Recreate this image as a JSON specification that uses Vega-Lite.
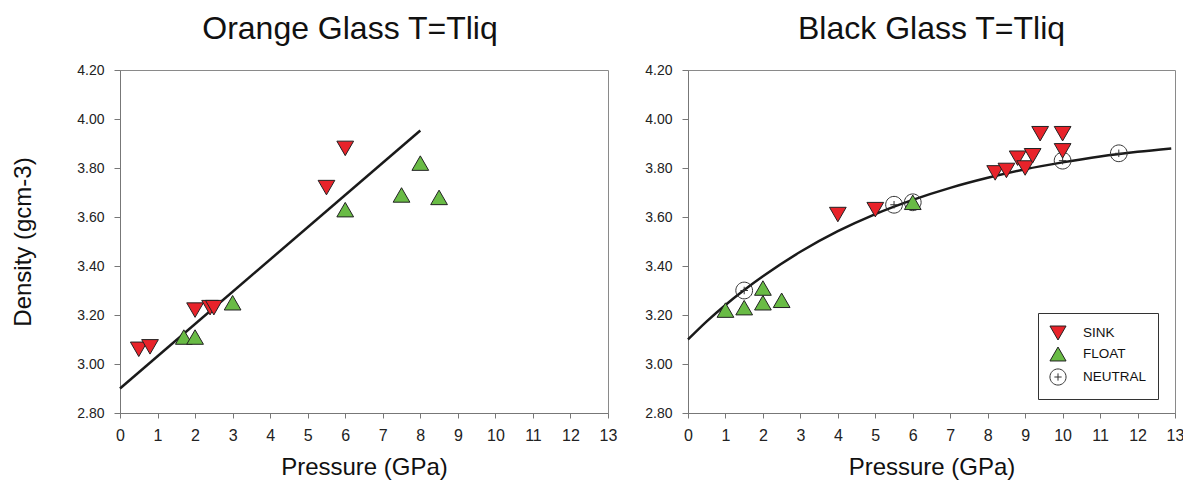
{
  "$schema": "https://vega.github.io/schema/vega-lite/v6.json",
  "autosize": {"type": "pad"},
  "padding": {"left": 10, "top": 12, "right": 5, "bottom": 5},
  "background": "white",
  "bounds": "flush",
  "spacing": 80,
  "datasets": {
    "orange": [
      {"P": 0.5, "D": 3.06, "type": "SINK"},
      {"P": 0.8, "D": 3.07, "type": "SINK"},
      {"P": 2.0, "D": 3.22, "type": "SINK"},
      {"P": 2.4, "D": 3.23, "type": "SINK"},
      {"P": 2.5, "D": 3.23, "type": "SINK"},
      {"P": 5.5, "D": 3.72, "type": "SINK"},
      {"P": 6.0, "D": 3.88, "type": "SINK"},
      {"P": 1.7, "D": 3.11, "type": "FLOAT"},
      {"P": 2.0, "D": 3.11, "type": "FLOAT"},
      {"P": 3.0, "D": 3.25, "type": "FLOAT"},
      {"P": 6.0, "D": 3.63, "type": "FLOAT"},
      {"P": 7.5, "D": 3.69, "type": "FLOAT"},
      {"P": 8.0, "D": 3.82, "type": "FLOAT"},
      {"P": 8.5, "D": 3.68, "type": "FLOAT"}
    ],
    "orangeFit": [
      {"P": 0, "D": 2.90},
      {"P": 8, "D": 3.953}
    ],
    "black": [
      {"P": 1.5, "D": 3.30, "type": "NEUTRAL"},
      {"P": 5.5, "D": 3.65, "type": "NEUTRAL"},
      {"P": 6.0, "D": 3.66, "type": "NEUTRAL"},
      {"P": 10.0, "D": 3.83, "type": "NEUTRAL"},
      {"P": 11.5, "D": 3.86, "type": "NEUTRAL"},
      {"P": 4.0, "D": 3.61, "type": "SINK"},
      {"P": 5.0, "D": 3.63, "type": "SINK"},
      {"P": 8.2, "D": 3.78, "type": "SINK"},
      {"P": 8.5, "D": 3.79, "type": "SINK"},
      {"P": 8.8, "D": 3.84, "type": "SINK"},
      {"P": 9.0, "D": 3.80, "type": "SINK"},
      {"P": 9.2, "D": 3.85, "type": "SINK"},
      {"P": 9.4, "D": 3.94, "type": "SINK"},
      {"P": 10.0, "D": 3.94, "type": "SINK"},
      {"P": 10.0, "D": 3.87, "type": "SINK"},
      {"P": 1.0, "D": 3.22, "type": "FLOAT"},
      {"P": 1.5, "D": 3.23, "type": "FLOAT"},
      {"P": 2.0, "D": 3.31, "type": "FLOAT"},
      {"P": 2.0, "D": 3.25, "type": "FLOAT"},
      {"P": 2.5, "D": 3.26, "type": "FLOAT"},
      {"P": 6.0, "D": 3.66, "type": "FLOAT"}
    ],
    "blackFit": [
      {"P": 0, "D": 3.100},
      {"P": 0.5, "D": 3.174},
      {"P": 1, "D": 3.241},
      {"P": 1.5, "D": 3.302},
      {"P": 2, "D": 3.358},
      {"P": 3, "D": 3.458},
      {"P": 4, "D": 3.542},
      {"P": 5, "D": 3.612},
      {"P": 6, "D": 3.670},
      {"P": 7, "D": 3.719},
      {"P": 8, "D": 3.760},
      {"P": 9, "D": 3.795},
      {"P": 10, "D": 3.823},
      {"P": 11, "D": 3.847},
      {"P": 12, "D": 3.866},
      {"P": 12.9, "D": 3.880}
    ]
  },
  "hconcat": [
    {
      "width": 488,
      "height": 343,
      "title": {"text": "Orange Glass T=Tliq", "dx": -14},
      "layer": [
        {
          "data": {"name": "orangeFit"},
          "mark": {"type": "line", "color": "#1a1a1a", "strokeWidth": 2.5},
          "encoding": {
            "x": {"field": "P", "type": "quantitative", "scale": {"domain": [0, 13], "nice": false},
              "axis": {"title": "Pressure (GPa)", "values": [0,1,2,3,4,5,6,7,8,9,10,11,12,13]}},
            "y": {"field": "D", "type": "quantitative", "scale": {"domain": [2.8, 4.2], "nice": false, "zero": false},
              "axis": {"title": "Density (gcm-3)", "values": [2.8,3.0,3.2,3.4,3.6,3.8,4.0,4.2], "format": ".2f",
                "titleX": -97, "titleY": 171.5, "titleAngle": -90, "titleBaseline": "middle", "titleAlign": "center"}}
          }
        },
        {
          "data": {"name": "orange"},
          "mark": {"type": "point", "filled": true, "size": 280, "opacity": 1, "strokeWidth": 1},
          "encoding": {
            "x": {"field": "P", "type": "quantitative", "scale": {"domain": [0, 13], "nice": false},
              "axis": {"title": "Pressure (GPa)", "values": [0,1,2,3,4,5,6,7,8,9,10,11,12,13]}},
            "y": {"field": "D", "type": "quantitative", "scale": {"domain": [2.8, 4.2], "nice": false, "zero": false},
              "axis": {"title": "Density (gcm-3)", "values": [2.8,3.0,3.2,3.4,3.6,3.8,4.0,4.2], "format": ".2f",
                "titleX": -97, "titleY": 171.5, "titleAngle": -90, "titleBaseline": "middle", "titleAlign": "center"}},
            "shape": {"field": "type", "type": "nominal", "legend": null,
              "scale": {"domain": ["SINK", "FLOAT", "NEUTRAL"], "range": ["triangle-down", "triangle-up", "M-1,0A1,1,0,1,1,1,0A1,1,0,1,1,-1,0Z M-0.45,0L0.45,0 M0,-0.45L0,0.45"]}},
            "fill": {"field": "type", "type": "nominal", "legend": null,
              "scale": {"domain": ["SINK", "FLOAT", "NEUTRAL"], "range": ["#e8232a", "#69bb45", "transparent"]}},
            "stroke": {"field": "type", "type": "nominal", "legend": null,
              "scale": {"domain": ["SINK", "FLOAT", "NEUTRAL"], "range": ["#222222", "#222222", "#333333"]}}
          }
        }
      ]
    },
    {
      "width": 487,
      "height": 343,
      "title": {"text": "Black Glass T=Tliq"},
      "layer": [
        {
          "data": {"name": "blackFit"},
          "mark": {"type": "line", "color": "#1a1a1a", "strokeWidth": 2.5, "interpolate": "monotone"},
          "encoding": {
            "x": {"field": "P", "type": "quantitative", "scale": {"domain": [0, 13], "nice": false},
              "axis": {"title": "Pressure (GPa)", "values": [0,1,2,3,4,5,6,7,8,9,10,11,12,13]}},
            "y": {"field": "D", "type": "quantitative", "scale": {"domain": [2.8, 4.2], "nice": false, "zero": false},
              "axis": {"title": null, "values": [2.8,3.0,3.2,3.4,3.6,3.8,4.0,4.2], "format": ".2f"}}
          }
        },
        {
          "data": {"name": "black"},
          "mark": {"type": "point", "filled": true, "size": 280, "opacity": 1, "strokeWidth": 1},
          "encoding": {
            "x": {"field": "P", "type": "quantitative", "scale": {"domain": [0, 13], "nice": false},
              "axis": {"title": "Pressure (GPa)", "values": [0,1,2,3,4,5,6,7,8,9,10,11,12,13]}},
            "y": {"field": "D", "type": "quantitative", "scale": {"domain": [2.8, 4.2], "nice": false, "zero": false},
              "axis": {"title": null, "values": [2.8,3.0,3.2,3.4,3.6,3.8,4.0,4.2], "format": ".2f"}},
            "shape": {"field": "type", "type": "nominal",
              "scale": {"domain": ["SINK", "FLOAT", "NEUTRAL"], "range": ["triangle-down", "triangle-up", "M-1,0A1,1,0,1,1,1,0A1,1,0,1,1,-1,0Z M-0.45,0L0.45,0 M0,-0.45L0,0.45"]},
              "legend": {"title": null, "orient": "none", "legendX": 350, "legendY": 243}},
            "fill": {"field": "type", "type": "nominal",
              "scale": {"domain": ["SINK", "FLOAT", "NEUTRAL"], "range": ["#e8232a", "#69bb45", "transparent"]},
              "legend": {"title": null, "orient": "none", "legendX": 350, "legendY": 243}},
            "stroke": {"field": "type", "type": "nominal",
              "scale": {"domain": ["SINK", "FLOAT", "NEUTRAL"], "range": ["#222222", "#222222", "#333333"]},
              "legend": {"title": null, "orient": "none", "legendX": 350, "legendY": 243}}
          }
        }
      ]
    }
  ],
  "resolve": {
    "scale": {"shape": "independent", "fill": "independent", "stroke": "independent"},
    "legend": {"shape": "independent", "fill": "independent", "stroke": "independent"}
  },
  "config": {
    "font": "Liberation Sans",
    "view": {"stroke": "#8a8a8a", "strokeWidth": 1},
    "title": {"fontSize": 32, "fontWeight": "normal", "color": "#111", "baseline": "alphabetic", "offset": 17, "anchor": "middle"},
    "axis": {
      "grid": false,
      "domainColor": "#777",
      "tickColor": "#777",
      "labelColor": "#222",
      "titleColor": "#111",
      "titleFontWeight": "normal",
      "labelOverlap": false,
      "labelFlush": false
    },
    "axisX": {
      "tickSize": 5,
      "labelFontSize": 16,
      "labelBaseline": "alphabetic",
      "labelPadding": 22,
      "titleFontSize": 24,
      "titleBaseline": "alphabetic",
      "titleY": 61
    },
    "axisY": {
      "tickSize": 6,
      "labelFontSize": 14,
      "labelPadding": 10,
      "titleFontSize": 24
    },
    "legend": {
      "strokeColor": "#333",
      "strokeWidth": 1,
      "padding": 11,
      "symbolSize": 260,
      "symbolStrokeWidth": 1,
      "labelFontSize": 13.5,
      "labelColor": "#111",
      "labelOffset": 16,
      "rowPadding": 3,
      "cornerRadius": 0
    }
  }
}
